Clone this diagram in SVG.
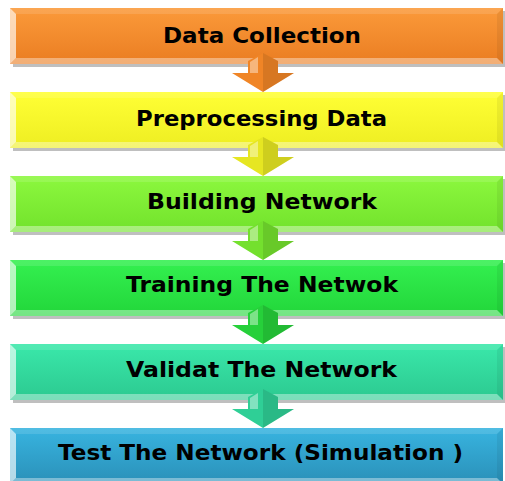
<svg xmlns="http://www.w3.org/2000/svg" xmlns:xlink="http://www.w3.org/1999/xlink" width="505" height="481" viewBox="0 0 505 481">
<style>
.lbl{font-family:"DejaVu Sans","Verdana",sans-serif;font-weight:bold;font-size:20.5px;fill:#000;text-anchor:middle}
.shadow{fill:#8a8a8a;opacity:0.55}
.bl{fill:#ffffff;opacity:0.65}
.bb{fill:#ffffff;opacity:0.38}
.bt{fill:#ffffff;opacity:0.12}
.br{fill:#000000;opacity:0.06}
.hl{fill:#ffffff;opacity:0.4}
.dk{fill:#000000;opacity:0.1}
</style>
<defs>
<linearGradient id="gO" x1="0" y1="0" x2="0" y2="1"><stop offset="0" stop-color="#fb9a3a"/><stop offset="1" stop-color="#ea7d22"/></linearGradient>
<linearGradient id="gY" x1="0" y1="0" x2="0" y2="1"><stop offset="0" stop-color="#ffff35"/><stop offset="1" stop-color="#eeee22"/></linearGradient>
<linearGradient id="gL" x1="0" y1="0" x2="0" y2="1"><stop offset="0" stop-color="#8cf83e"/><stop offset="1" stop-color="#72e22c"/></linearGradient>
<linearGradient id="gG" x1="0" y1="0" x2="0" y2="1"><stop offset="0" stop-color="#34f050"/><stop offset="1" stop-color="#22d63a"/></linearGradient>
<linearGradient id="gT" x1="0" y1="0" x2="0" y2="1"><stop offset="0" stop-color="#3ae8aa"/><stop offset="1" stop-color="#2cc990"/></linearGradient>
<linearGradient id="gB" x1="0" y1="0" x2="0" y2="1"><stop offset="0" stop-color="#38b4e0"/><stop offset="1" stop-color="#2a90b8"/></linearGradient>
<g id="bevel">
<polygon class="bt" points="0,0 493,0 487,6 6,6"/>
<polygon class="bl" points="0,0 6,6 6,50 0,56"/>
<polygon class="br" points="493,0 493,56 487,50 487,6"/>
<polygon class="bb" points="0,56 6,50 487,50 493,56"/>
</g>
<g id="arrowhl">
<polygon class="hl" points="-13,9 -5,4 -5,20 -13,20"/>
<polygon class="dk" points="0,39 31,20 15,20 15,8 0,0 0,20"/>
</g>
<polygon id="arrow" points="-15,8 0,0 15,8 15,20 31,20 0,39 -31,20 -15,20"/>
</defs>
<g id="nodes">
<g id="n1">
<rect class="shadow" x="13" y="11" width="493" height="56"/>
<rect x="10" y="8" width="493" height="56" fill="url(#gO)"/>
<use xlink:href="#bevel" x="10" y="8"/>
<text class="lbl" x="262" y="42.5" textLength="198" lengthAdjust="spacingAndGlyphs">Data Collection</text>
</g>
<g id="n2">
<rect class="shadow" x="13" y="95" width="493" height="56"/>
<rect x="10" y="92" width="493" height="56" fill="url(#gY)"/>
<use xlink:href="#bevel" x="10" y="92"/>
<text class="lbl" x="261.5" y="126" textLength="251" lengthAdjust="spacingAndGlyphs">Preprocessing Data</text>
</g>
<g id="n3">
<rect class="shadow" x="13" y="179" width="493" height="56"/>
<rect x="10" y="176" width="493" height="56" fill="url(#gL)"/>
<use xlink:href="#bevel" x="10" y="176"/>
<text class="lbl" x="262" y="208.5" textLength="230" lengthAdjust="spacingAndGlyphs">Building Network</text>
</g>
<g id="n4">
<rect class="shadow" x="13" y="263" width="493" height="56"/>
<rect x="10" y="260" width="493" height="56" fill="url(#gG)"/>
<use xlink:href="#bevel" x="10" y="260"/>
<text class="lbl" x="262" y="292" textLength="272" lengthAdjust="spacingAndGlyphs">Training The Netwok</text>
</g>
<g id="n5">
<rect class="shadow" x="13" y="347" width="493" height="56"/>
<rect x="10" y="344" width="493" height="56" fill="url(#gT)"/>
<use xlink:href="#bevel" x="10" y="344"/>
<text class="lbl" x="261.5" y="376.5" textLength="271" lengthAdjust="spacingAndGlyphs">Validat The Network</text>
</g>
<g id="n6">
<rect x="10" y="428" width="493" height="56" fill="url(#gB)"/>
<use xlink:href="#bevel" x="10" y="428"/>
<text class="lbl" x="260.5" y="460" textLength="405" lengthAdjust="spacingAndGlyphs">Test The Network (Simulation )</text>
</g>
</g>
<g id="connectors">
<g transform="translate(263,53)"><use xlink:href="#arrow" fill="#f08526"/><use xlink:href="#arrowhl"/></g>
<g transform="translate(263,137)"><use xlink:href="#arrow" fill="#e6e622"/><use xlink:href="#arrowhl"/></g>
<g transform="translate(263,221)"><use xlink:href="#arrow" fill="#74e02e"/><use xlink:href="#arrowhl"/></g>
<g transform="translate(263,305)"><use xlink:href="#arrow" fill="#26d03a"/><use xlink:href="#arrowhl"/></g>
<g transform="translate(263,389)"><use xlink:href="#arrow" fill="#2fcf96"/><use xlink:href="#arrowhl"/></g>
</g>
</svg>
